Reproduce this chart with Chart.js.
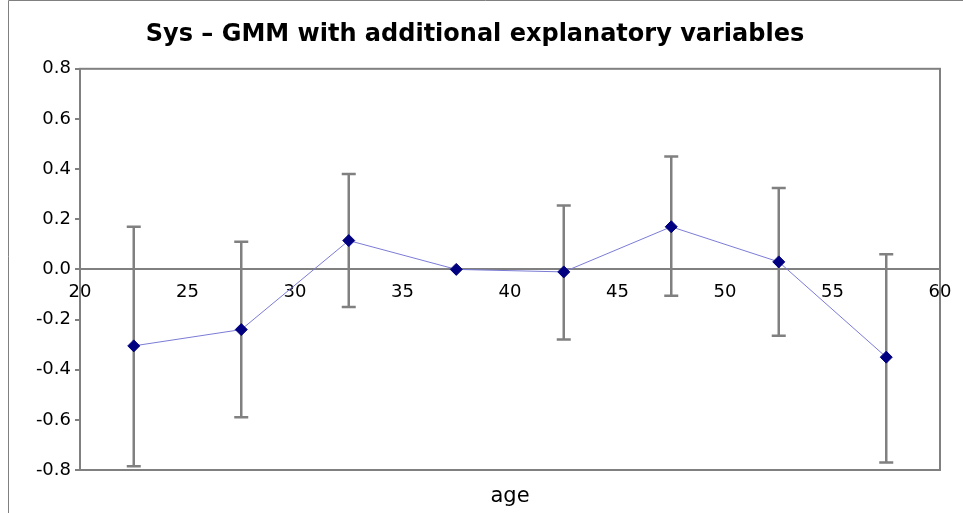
<!DOCTYPE html>
<html><head><meta charset="utf-8">
<script src="https://cdn.jsdelivr.net/npm/chart.js@4"></script>
<style>html,body{margin:0;background:#fff}#wrap{width:963px;height:513px}</style>
</head><body><div id="wrap"><canvas id="c"></canvas></div>
<script>
const ages = [22.5, 27.5, 32.5, 37.5, 42.5, 47.5, 52.5, 57.5];
const coef = [-0.305, -0.24, 0.115, 0.0, -0.01, 0.17, 0.03, -0.35];
const upper = [0.17, 0.11, 0.38, null, 0.255, 0.45, 0.325, 0.06];
const lower = [-0.785, -0.59, -0.15, null, -0.28, -0.105, -0.265, -0.77];

const extras = {
  id: 'extras',
  beforeDatasetsDraw(chart) {
    const {ctx, chartArea: a, scales: {x, y}} = chart;
    ctx.save();
    ctx.strokeStyle = '#808080';
    ctx.lineWidth = 2;
    ctx.strokeRect(a.left, a.top, a.right - a.left, a.bottom - a.top);
    ctx.lineWidth = 2.5;
    ages.forEach((v, i) => {
      if (upper[i] === null) return;
      const px = x.getPixelForValue(v);
      const t = y.getPixelForValue(upper[i]), b = y.getPixelForValue(lower[i]);
      ctx.beginPath();
      ctx.moveTo(px, t); ctx.lineTo(px, b);
      ctx.moveTo(px - 7, t); ctx.lineTo(px + 7, t);
      ctx.moveTo(px - 7, b); ctx.lineTo(px + 7, b);
      ctx.stroke();
    });
    ctx.restore();
  },
  afterDraw(chart) {
    const {ctx, chartArea: a} = chart;
    ctx.save();
    ctx.fillStyle = '#000';
    ctx.font = '21px "DejaVu Sans"';
    ctx.textAlign = 'center';
    ctx.fillText('age', (a.left + a.right) / 2, 502);
    ctx.strokeStyle = '#808080';
    ctx.lineWidth = 1;
    ctx.beginPath();
    ctx.moveTo(8.5, 513); ctx.lineTo(8.5, 0.5); ctx.lineTo(963, 0.5);
    ctx.stroke();
    ctx.restore();
  }
};

new Chart(document.getElementById('c'), {
  type: 'scatter',
  data: {
    datasets: [{
      data: ages.map((a, i) => ({x: a, y: coef[i]})),
      showLine: true,
      borderColor: '#7b7bd6',
      borderWidth: 1,
      pointStyle: 'rectRot',
      pointRadius: 6,
      pointBackgroundColor: '#000080',
      pointBorderColor: '#000080'
    }]
  },
  options: {
    responsive: true,
    maintainAspectRatio: false,
    animation: false,
    layout: {padding: {top: 4, right: 23, bottom: 43, left: 10}},
    scales: {
      x: {
        type: 'linear', min: 20, max: 60,
        position: {y: 0},
        grid: {display: false},
        border: {color: '#808080', width: 2},
        ticks: {stepSize: 5, color: '#000', font: {size: 18, family: 'DejaVu Sans'}, padding: 4}
      },
      y: {
        min: -0.8, max: 0.8,
        afterFit(s) { s.width = 70; },
        grid: {display: true, drawOnChartArea: false, drawTicks: true, tickLength: 5, color: '#808080', lineWidth: 2},
        border: {display: false},
        ticks: {stepSize: 0.2, color: '#000', font: {size: 18, family: 'DejaVu Sans'}, padding: 4,
          callback: v => v.toFixed(1)}
      }
    },
    plugins: {
      legend: {display: false},
      tooltip: {enabled: false},
      title: {display: true, text: 'Sys \u2013 GMM with additional explanatory variables',
        color: '#000', font: {size: 24, weight: 'bold', family: 'DejaVu Sans'}, padding: {top: 16, bottom: 20}}
    }
  },
  plugins: [extras]
});
</script></body></html>
